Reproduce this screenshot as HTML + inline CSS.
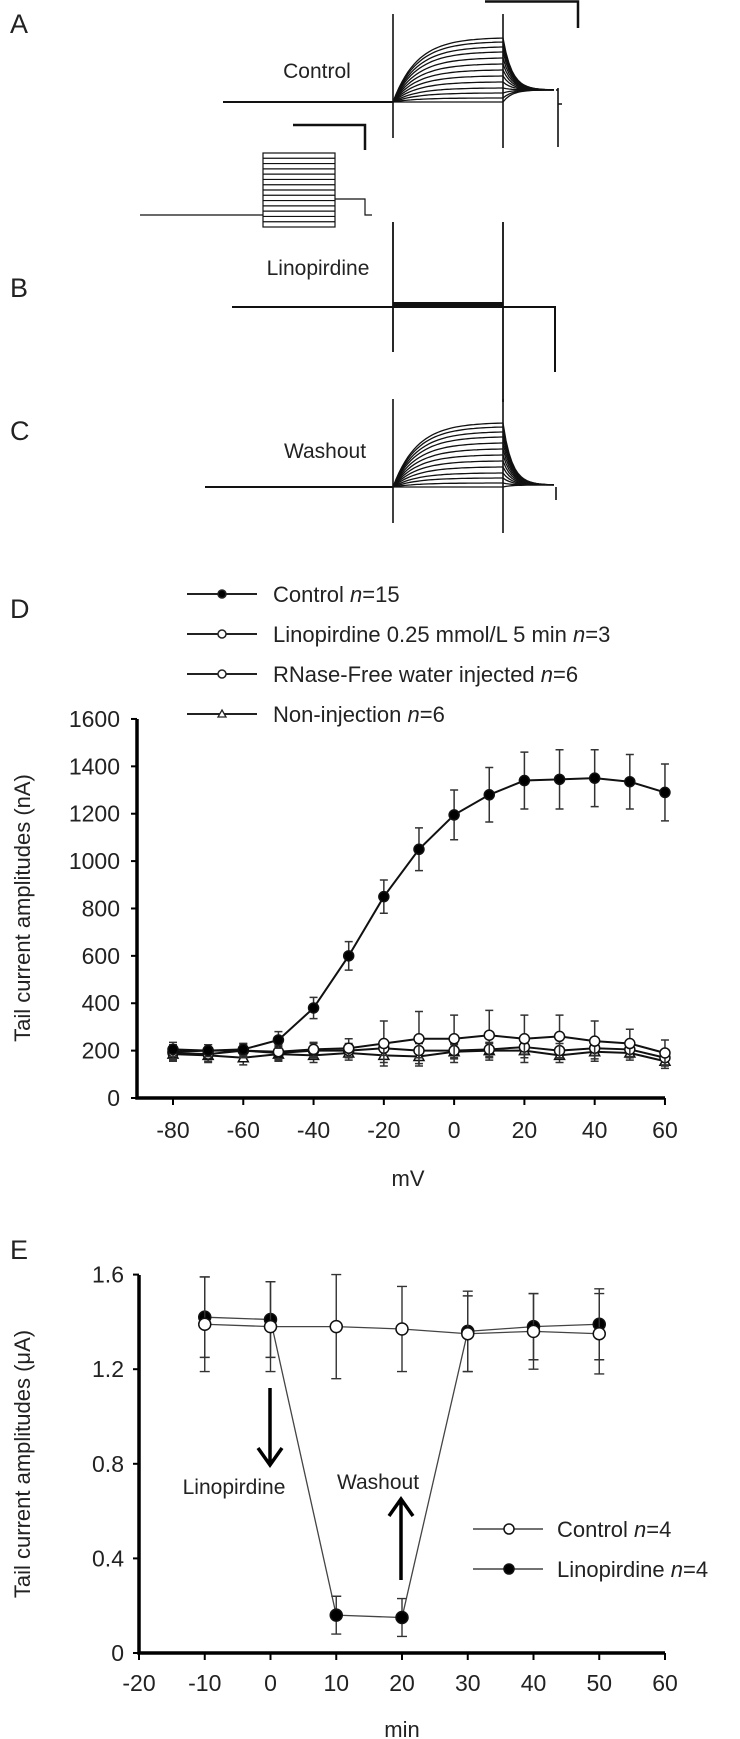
<!DOCTYPE html>
<html><head><meta charset="utf-8"><style>
html,body{margin:0;padding:0;background:#fff}
svg{display:block}
text{font-family:"Liberation Sans",sans-serif;fill:#222}
</style></head><body>
<svg id="fig" width="740" height="1739" viewBox="0 0 740 1739" xmlns="http://www.w3.org/2000/svg">
<g id="traces" stroke="#111" fill="none">
  <text x="10" y="33" font-size="27" stroke="none">A</text>
  <text x="10" y="297" font-size="27" stroke="none">B</text>
  <text x="10" y="440" font-size="27" stroke="none">C</text>
  <text x="317" y="78" font-size="21" text-anchor="middle" stroke="none">Control</text>
  <text x="318" y="275" font-size="21" text-anchor="middle" stroke="none">Linopirdine</text>
  <text x="325" y="458" font-size="21" text-anchor="middle" stroke="none">Washout</text>
  <path d="M485 1.5H578V28" stroke-width="2.5"/>
  <path d="M293 125H365V150" stroke-width="2.5"/>
  <g id="protocol" stroke-width="1.2"></g>
  <g id="ctrlTr" stroke-width="1.3"></g>
  <g id="washTr" stroke-width="1.3"></g>
  <g>
    <path d="M232 307H555V372" stroke-width="2"/>
    <rect x="393" y="302" width="110" height="5" fill="#111" stroke="none"/>
    <path d="M393 222V352M503 222V402" stroke-width="1.8"/>
  </g>
</g>
<g id="chartD"></g>
<g id="chartE"></g>
</svg>
<script>
// ---------- Panel D data ----------
const dVolts = [-80,-70,-60,-50,-40,-30,-20,-10,0,10,20,30,40,50,60];
const dControl = [205,200,205,245,380,600,850,1050,1195,1280,1340,1345,1350,1335,1290];
const dControlErr = [30,25,25,35,45,60,70,90,105,115,120,125,120,115,120];
const dRnase = [195,200,200,195,205,210,230,250,250,265,250,260,240,230,190];
const dRnaseErr = [30,25,25,30,30,40,95,115,100,105,100,90,85,60,55];
const dLino = [190,185,200,190,200,200,210,200,200,205,215,200,210,205,170];
const dLinoErr = [30,30,30,30,30,30,30,30,30,30,30,30,30,30,30];
const dNonInj = [185,180,170,185,180,190,180,175,195,200,200,180,195,190,155];
const dNonInjErr = [30,30,30,30,30,30,30,30,30,30,30,30,30,30,30];
const dYTicks = [0,200,400,600,800,1000,1200,1400,1600];
const dXTicks = [-80,-60,-40,-20,0,20,40,60];
// ---------- Panel E data ----------
const eTimes = [-10,0,10,20,30,40,50];
const eControl = [1.39,1.38,1.38,1.37,1.35,1.36,1.35];
const eControlErr = [0.2,0.19,0.22,0.18,0.16,0.16,0.17];
const eLino = [1.42,1.41,0.16,0.15,1.36,1.38,1.39];
const eLinoErr = [0.17,0.16,0.08,0.08,0.17,0.14,0.15];
const eYTicks = [0,0.4,0.8,1.2,1.6];
const eXTicks = [-20,-10,0,10,20,30,40,50,60];
// ---------- traces amplitudes (px) ----------
const trAmps = [0,4,9,14,20,26,32,38,44,50,55,60,64];

const NS="http://www.w3.org/2000/svg";
function mk(tag,attrs,parent){const e=document.createElementNS(NS,tag);for(const k in attrs)e.setAttribute(k,attrs[k]);parent.appendChild(e);return e;}

// protocol
(function(){
  const g=document.getElementById('protocol');
  mk('path',{d:'M140 215H263M335 199H365V215H372'},g);
  mk('rect',{x:263,y:153,width:72,height:74},g);
  for(let i=1;i<14;i++){const l=mk('line',{x1:263,x2:335,y1:153+i*74/14,y2:153+i*74/14},g);}
})();
function traceFamily(gid,base,x0,x1,xt,tail,extra){
  const g=document.getElementById(gid);
  trAmps.forEach(a=>{
    let d='M'+(gid==='ctrlTr'?223:205)+' '+base+'H'+x0;
    for(let x=x0;x<=x1;x+=3){d+=' L'+x+' '+(base-a*(1-Math.exp(-(x-x0)/24))/(1-Math.exp(-(x1-x0)/24))).toFixed(1);}
    const end=base-a;
    for(let x=x1;x<=xt;x+=3){const v=tail+(end-tail)*Math.exp(-(x-x1)/9);d+=' L'+x+' '+(base-(base-v)).toFixed(1);}
    const p=mk('path',{d:d},g);
    
    
  });
  mk('path',{d:'M'+x0+' '+(base-88)+'V'+(base+36)+'M'+x1+' '+(base-88)+'V'+(base+46)+extra,'stroke-width':1.6},g);
}
traceFamily('ctrlTr',102,393,503,556,90,'M558 88V147M556 90H558V104H562');
traceFamily('washTr',487,393,503,556,485,'M556 487V500');

// ---------- chart D ----------
(function(){
  const g=document.getElementById('chartD');
  const X=v=>173+(v+80)*3.514, Y=v=>1098-v*0.2369;
  const ax=mk('path',{d:'M137 719V1098H665',stroke:'#000','stroke-width':3.5,fill:'none'},g);
  
  dYTicks.forEach(t=>{mk('line',{x1:131,x2:137,y1:Y(t),y2:Y(t),stroke:'#000','stroke-width':2},g);
    const tx=mk('text',{x:120,y:Y(t)+8,'font-size':23,'text-anchor':'end'},g);tx.textContent=t;
    });
  dXTicks.forEach(t=>{mk('line',{x1:X(t),x2:X(t),y1:1098,y2:1105,stroke:'#000','stroke-width':2},g);
    const tx=mk('text',{x:X(t),y:1138,'font-size':23,'text-anchor':'middle'},g);tx.textContent=t;
    });
  let t=mk('text',{x:408,y:1186,'font-size':22,'text-anchor':'middle'},g);t.textContent='mV';
  
  t=mk('text',{x:0,y:0,'font-size':22,'text-anchor':'middle',transform:'translate(30 908) rotate(-90)'},g);t.textContent='Tail current amplitudes (nA)';
  
  t=mk('text',{x:10,y:618,'font-size':27},g);t.textContent='D';
  
  const series=[
    {v:dNonInj,e:dNonInjErr,m:'tri',n:'series-non-injection'},
    {v:dLino,e:dLinoErr,m:'open',n:'series-linopirdine'},
    {v:dRnase,e:dRnaseErr,m:'open',n:'series-rnase-water'},
    {v:dControl,e:dControlErr,m:'fill',n:'series-control'}];
  series.forEach(s=>{
    const sg=mk('g',{},g);
    s.v.forEach((v,i)=>{const x=X(dVolts[i]);
      mk('path',{d:`M${x} ${Y(v-s.e[i])}V${Y(v+s.e[i])}M${x-4} ${Y(v-s.e[i])}h8M${x-4} ${Y(v+s.e[i])}h8`,stroke:'#333','stroke-width':1.5,fill:'none'},sg);});
    mk('polyline',{points:s.v.map((v,i)=>X(dVolts[i])+','+Y(v)).join(' '),stroke:'#111','stroke-width':2,fill:'none'},sg);
    s.v.forEach((v,i)=>{const x=X(dVolts[i]),y=Y(v);let m;
      if(s.m==='tri')m=mk('path',{d:`M${x} ${y-5}L${x+5} ${y+4}L${x-5} ${y+4}Z`,fill:'#fff',stroke:'#111','stroke-width':1.5},sg);
      else m=mk('circle',{cx:x,cy:y,r:5,fill:s.m==='fill'?'#000':'#fff',stroke:'#111','stroke-width':1.5},sg);
      });
  });
  const leg=[['fill','Control ','n','=15'],['open','Linopirdine 0.25 mmol/L 5 min ','n','=3'],['open','RNase-Free water injected ','n','=6'],['tri','Non-injection ','n','=6']];
  leg.forEach((l,i)=>{const y=594+i*40;const lg=mk('g',{},g);
    
    mk('line',{x1:187,x2:257,y1:y,y2:y,stroke:'#222','stroke-width':2},lg);
    if(l[0]==='tri')mk('path',{d:`M222 ${y-4}L226 ${y+3}L218 ${y+3}Z`,fill:'#fff',stroke:'#222','stroke-width':1.3},lg);
    else mk('circle',{cx:222,cy:y,r:4,fill:l[0]==='fill'?'#000':'#fff',stroke:'#222','stroke-width':1.5},lg);
    const tx=mk('text',{x:273,y:y+8,'font-size':22},lg);
    tx.appendChild(document.createTextNode(l[1]));
    const it=mk('tspan',{'font-style':'italic'},tx);it.textContent=l[2];
    tx.appendChild(document.createTextNode(l[3]));});
})();

// ---------- chart E ----------
(function(){
  const g=document.getElementById('chartE');
  const X=v=>139+(v+20)*6.575, Y=v=>1653-v*236.5;
  const ax=mk('path',{d:'M139 1275V1653H665',stroke:'#000','stroke-width':3.5,fill:'none'},g);
  
  eYTicks.forEach(t=>{mk('line',{x1:133,x2:139,y1:Y(t),y2:Y(t),stroke:'#000','stroke-width':2},g);
    const tx=mk('text',{x:124,y:Y(t)+8,'font-size':23,'text-anchor':'end'},g);tx.textContent=t===0?'0':t.toFixed(1);
    });
  eXTicks.forEach(t=>{mk('line',{x1:X(t),x2:X(t),y1:1653,y2:1660,stroke:'#000','stroke-width':2},g);
    const tx=mk('text',{x:X(t),y:1691,'font-size':23,'text-anchor':'middle'},g);tx.textContent=t;
    });
  let t=mk('text',{x:402,y:1737,'font-size':22,'text-anchor':'middle'},g);t.textContent='min';
  
  t=mk('text',{x:0,y:0,'font-size':22,'text-anchor':'middle',transform:'translate(30 1464) rotate(-90)'},g);t.textContent='Tail current amplitudes (μA)';
  
  t=mk('text',{x:10,y:1259,'font-size':27},g);t.textContent='E';
  
  [{v:eLino,e:eLinoErr,f:'#000',n:'series-linopirdine'},{v:eControl,e:eControlErr,f:'#fff',n:'series-control'}].forEach(s=>{
    const sg=mk('g',{},g);
    s.v.forEach((v,i)=>{const x=X(eTimes[i]);
      mk('path',{d:`M${x} ${Y(v-s.e[i])}V${Y(v+s.e[i])}M${x-5} ${Y(v-s.e[i])}h10M${x-5} ${Y(v+s.e[i])}h10`,stroke:'#333','stroke-width':1.4,fill:'none'},sg);});
    mk('polyline',{points:s.v.map((v,i)=>X(eTimes[i])+','+Y(v)).join(' '),stroke:'#444','stroke-width':1.3,fill:'none'},sg);
    s.v.forEach((v,i)=>{const m=mk('circle',{cx:X(eTimes[i]),cy:Y(v),r:6,fill:s.f,stroke:'#111','stroke-width':1.5},sg);
      });
  });
  let a=mk('path',{d:'M270 1388V1464M258 1448L270 1465L282 1448',stroke:'#000','stroke-width':3.5,fill:'none'},g);
  
  a=mk('path',{d:'M401 1580V1500M389 1516L401 1499L413 1516',stroke:'#000','stroke-width':3.5,fill:'none'},g);
  
  t=mk('text',{x:234,y:1494,'font-size':21,'text-anchor':'middle'},g);t.textContent='Linopirdine';
  
  t=mk('text',{x:378,y:1489,'font-size':21,'text-anchor':'middle'},g);t.textContent='Washout';
  
  [['#fff','Control '],['#000','Linopirdine ']].forEach((l,i)=>{const y=1529+i*40;const lg=mk('g',{},g);
    
    mk('line',{x1:473,x2:543,y1:y,y2:y,stroke:'#444','stroke-width':1.5},lg);
    mk('circle',{cx:509,cy:y,r:5,fill:l[0],stroke:'#111','stroke-width':1.5},lg);
    const tx=mk('text',{x:557,y:y+8,'font-size':22},lg);
    tx.appendChild(document.createTextNode(l[1]));
    const it=mk('tspan',{'font-style':'italic'},tx);it.textContent='n';
    tx.appendChild(document.createTextNode('=4'));});
})();
</script>
</body></html>
